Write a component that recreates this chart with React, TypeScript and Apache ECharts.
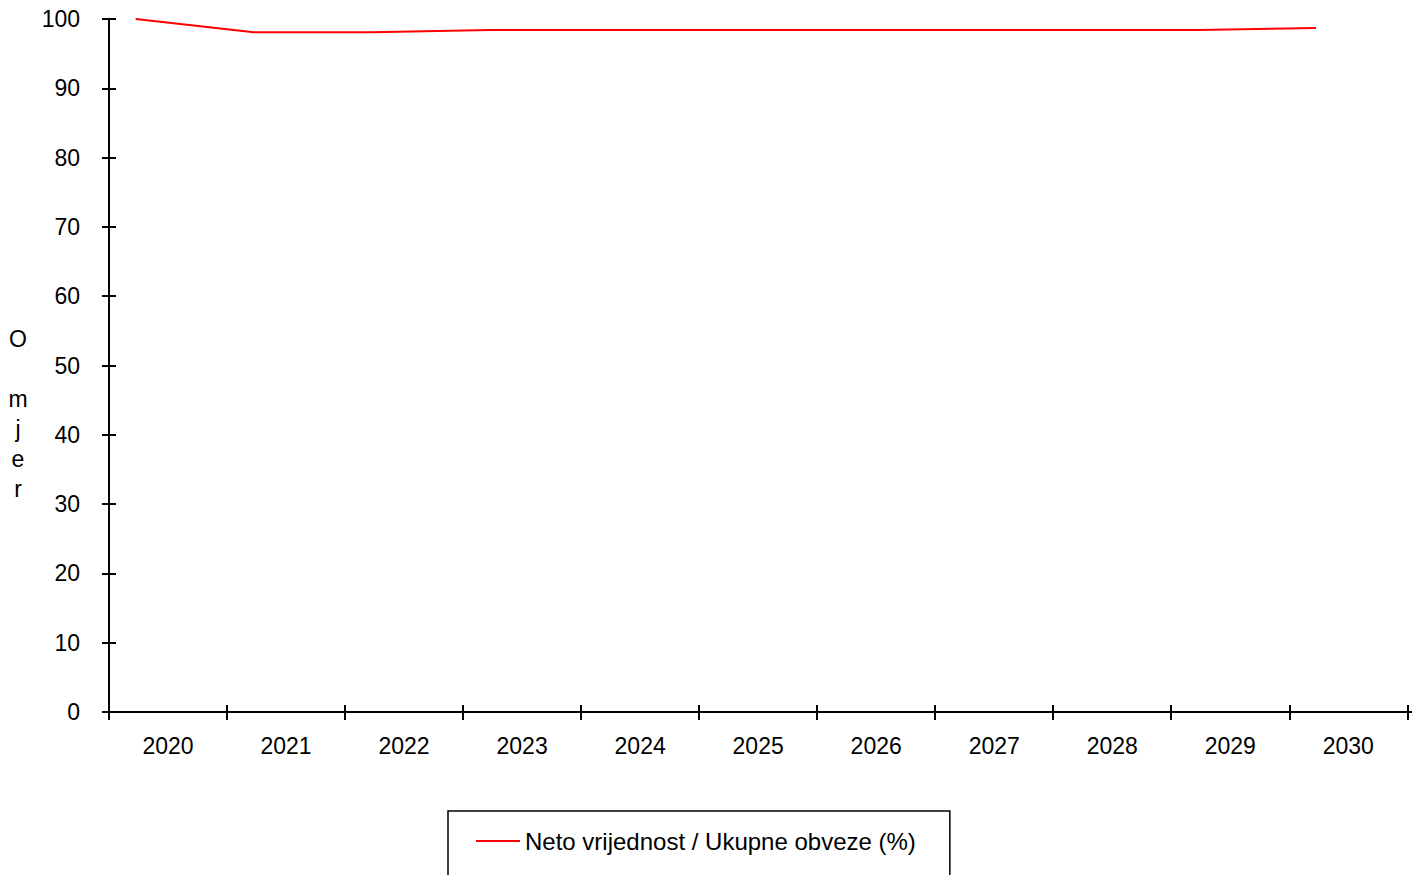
import React, { useEffect, useRef } from "react";
import * as echarts from "echarts";

const years: string[] = ["2020", "2021", "2022", "2023", "2024", "2025", "2026", "2027", "2028", "2029", "2030"];
const yearValues: number[] = [2020, 2021, 2022, 2023, 2024, 2025, 2026, 2027, 2028, 2029, 2030];
const ratioValues: number[] = [100, 98.1, 98.1, 98.4, 98.4, 98.4, 98.4, 98.4, 98.4, 98.4, 98.7];
const seriesName = "Neto vrijednost / Ukupne obveze (%)";
const yAxisTitle = "O\n\nm\nj\ne\nr";

const FONT = "'Liberation Sans', Arial, sans-serif";

export default function App() {
  const ref = useRef<HTMLDivElement>(null);
  useEffect(() => {
    if (!ref.current) return;
    const chart = echarts.init(ref.current, undefined, { renderer: "svg" });
    const lineData = yearValues.map((y, i) => [y, ratioValues[i]]);
    chart.setOption({
      animation: false,
      backgroundColor: "#ffffff",
      textStyle: { fontFamily: FONT },
      grid: { left: 109, right: 16.7, top: 19, bottom: 163, containLabel: false },
      xAxis: [
        {
          type: "category",
          position: "bottom",
          data: years,
          boundaryGap: true,
          axisLine: { show: true, lineStyle: { color: "#000", width: 2 } },
          axisTick: { show: true, inside: false, length: 8, lineStyle: { color: "#000", width: 2 } },
          axisLabel: { color: "#000", fontSize: 23, fontFamily: FONT, margin: 22 },
          splitLine: { show: false },
        },
        {
          type: "category",
          position: "bottom",
          offset: 0,
          data: years,
          boundaryGap: true,
          axisLine: { show: false },
          axisTick: { show: true, inside: true, length: 7, lineStyle: { color: "#000", width: 2 } },
          axisLabel: { show: false },
          splitLine: { show: false },
        },
        {
          type: "value",
          position: "bottom",
          min: 2019.774,
          max: 2030.774,
          show: false,
          splitLine: { show: false },
        },
      ],
      yAxis: [
        {
          type: "value",
          position: "left",
          min: 0,
          max: 100,
          interval: 10,
          axisLine: { show: true, lineStyle: { color: "#000", width: 2 } },
          axisTick: { show: true, inside: false, length: 7, lineStyle: { color: "#000", width: 2 } },
          axisLabel: { color: "#000", fontSize: 23, fontFamily: FONT, margin: 29 },
          splitLine: { show: false },
        },
        {
          type: "value",
          position: "left",
          offset: 0,
          min: 0,
          max: 100,
          interval: 10,
          axisLine: { show: false },
          axisTick: { show: true, inside: true, length: 7, lineStyle: { color: "#000", width: 2 } },
          axisLabel: { show: false },
          splitLine: { show: false },
        },
      ],
      legend: {
        data: [{ name: seriesName, icon: "rect" }],
        left: 448,
        top: 811,
        orient: "horizontal",
        itemWidth: 44,
        itemHeight: 2,
        itemGap: 10,
        padding: [18, 34, 40, 28],
        borderColor: "#000",
        borderWidth: 1.5,
        textStyle: { color: "#000", fontSize: 24, fontFamily: FONT },
      },
      series: [
        {
          name: seriesName,
          type: "line",
          xAxisIndex: 2,
          yAxisIndex: 0,
          data: lineData,
          showSymbol: false,
          symbol: "none",
          itemStyle: { color: "#ff0000" },
          lineStyle: { color: "#ff0000", width: 2 },
        },
      ],
      graphic: [
        {
          type: "line",
          shape: { x1: 1406, y1: 712, x2: 1412, y2: 712 },
          style: { stroke: "#000", lineWidth: 2 },
        },
        {
          type: "text",
          x: 18,
          y: 324,
          style: {
            text: yAxisTitle,
            fill: "#000",
            font: `23px ${FONT}`,
            fontSize: 23,
            lineHeight: 30,
            align: "center",
            verticalAlign: "top",
          },
        },
      ],
    });
    return () => chart.dispose();
  }, []);
  return (
    <div
      ref={ref}
      style={{ position: "fixed", left: 0, top: 0, width: 1424, height: 875, background: "#fff" }}
    />
  );
}
